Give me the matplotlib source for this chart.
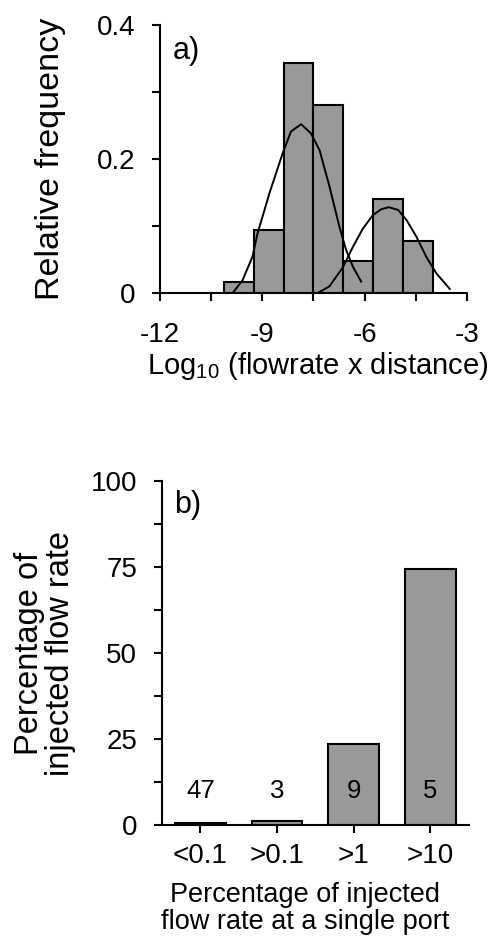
import numpy as np
import matplotlib
matplotlib.use("Agg")
import matplotlib.pyplot as plt
from matplotlib.ticker import MultipleLocator

plt.rcParams['font.family'] = ['Liberation Sans', 'DejaVu Sans']
plt.rcParams['mathtext.fontset'] = 'custom'
plt.rcParams['mathtext.rm'] = 'Liberation Sans'
plt.rcParams['mathtext.it'] = 'Liberation Sans'
plt.rcParams['mathtext.bf'] = 'Liberation Sans'

# panel a: histogram of log10(flowrate x distance)
bin_edges = [-10.125, -9.25, -8.375, -7.5, -6.625, -5.75, -4.875, -4.0]
rel_freq = [0.016, 0.094, 0.344, 0.281, 0.047, 0.141, 0.078]

# fitted curves, points
fit1_x = [-9.87, -9.58, -9.29, -9.14, -8.79, -8.40, -8.16, -7.86, -7.57, -7.32, -7.03, -6.74, -6.54, -6.34, -6.10]
fit1_y = [0.000, 0.019, 0.054, 0.089, 0.149, 0.209, 0.241, 0.252, 0.238, 0.213, 0.159, 0.099, 0.064, 0.039, 0.017]
fit2_x = [-7.37, -7.03, -6.64, -6.34, -6.05, -5.76, -5.51, -5.29, -5.02, -4.77, -4.48, -4.19, -3.89, -3.50]
fit2_y = [0.000, 0.010, 0.038, 0.069, 0.096, 0.116, 0.125, 0.128, 0.124, 0.109, 0.084, 0.054, 0.029, 0.006]

# panel b
categories = ['<0.1', '>0.1', '>1', '>10']
percent_flow = [0.7, 1.2, 23.6, 74.4]
port_counts = ['47', '3', '9', '5']

bar_gray = '#999999'
lw = 1.5

fig = plt.figure(figsize=(4.94, 9.36), dpi=100)

# ---- panel a ----
ax1 = fig.add_axes([0.324, 0.687, 0.621, 0.2863])
widths = np.diff(bin_edges)
ax1.bar(bin_edges[:-1], rel_freq, width=widths, align='edge',
        color=bar_gray, edgecolor='black', linewidth=lw, zorder=2)
ax1.plot(fit1_x, fit1_y, color='black', lw=1.4, zorder=3)
ax1.plot(fit2_x, fit2_y, color='black', lw=1.4, zorder=3)
ax1.set_xlim(-12, -3)
ax1.set_ylim(0, 0.4)
ax1.set_xticks([-12, -9, -6, -3])
ax1.set_xticklabels(['-12', '-9', '-6', '-3'])
ax1.xaxis.set_minor_locator(MultipleLocator(1.5))
ax1.set_yticks([0, 0.2, 0.4])
ax1.set_yticklabels(['0', '0.2', '0.4'])
ax1.yaxis.set_minor_locator(MultipleLocator(0.1))
ax1.set_ylabel('Relative frequency', fontsize=24.5)
ax1.yaxis.set_label_coords(-0.305, 0.5)
ax1.set_xlabel(r'Log$_{10}$ (flowrate x distance)', fontsize=21)
ax1.xaxis.set_label_coords(0.515, -0.212)
ax1.text(0.04, 0.96, 'a)', transform=ax1.transAxes, fontsize=22, va='top', ha='left')

# ---- panel b ----
ax2 = fig.add_axes([0.328, 0.1186, 0.621, 0.3675])
xpos = np.arange(len(categories))
ax2.bar(xpos, percent_flow, width=0.66, color=bar_gray, edgecolor='black',
        linewidth=lw, zorder=2)
for x, lab in zip(xpos, port_counts):
    ax2.text(x, 10, lab, ha='center', va='center', fontsize=18.5, zorder=4)
ax2.set_xlim(-0.5, 3.5)
ax2.set_ylim(0, 100)
ax2.set_xticks(xpos)
ax2.set_xticklabels(categories)
ax2.set_yticks([0, 25, 50, 75, 100])
ax2.yaxis.set_minor_locator(MultipleLocator(12.5))
ax2.set_ylabel('Percentage of\ninjected flow rate', fontsize=23.5, linespacing=1.0)
ax2.yaxis.set_label_coords(-0.28, 0.5)
ax2.set_xlabel('Percentage of injected\nflow rate at a single port', fontsize=19.5, linespacing=1.05)
ax2.xaxis.set_label_coords(0.466, -0.165)
ax2.text(0.04, 0.975, 'b)', transform=ax2.transAxes, fontsize=22, va='top', ha='left')

for ax in (ax1, ax2):
    for s in ('top', 'right'):
        ax.spines[s].set_visible(False)
    for s in ('left', 'bottom'):
        ax.spines[s].set_linewidth(lw)
    ax.tick_params(which='both', direction='out', length=6, width=lw, labelsize=20)
    ax.tick_params(axis='y', which='both', pad=12)

ax1.tick_params(axis='x', which='both', pad=15)
ax2.tick_params(axis='x', which='both', pad=7)
ax2.tick_params(axis='x', which='minor', length=0)

fig.savefig('out.png', dpi=100)
